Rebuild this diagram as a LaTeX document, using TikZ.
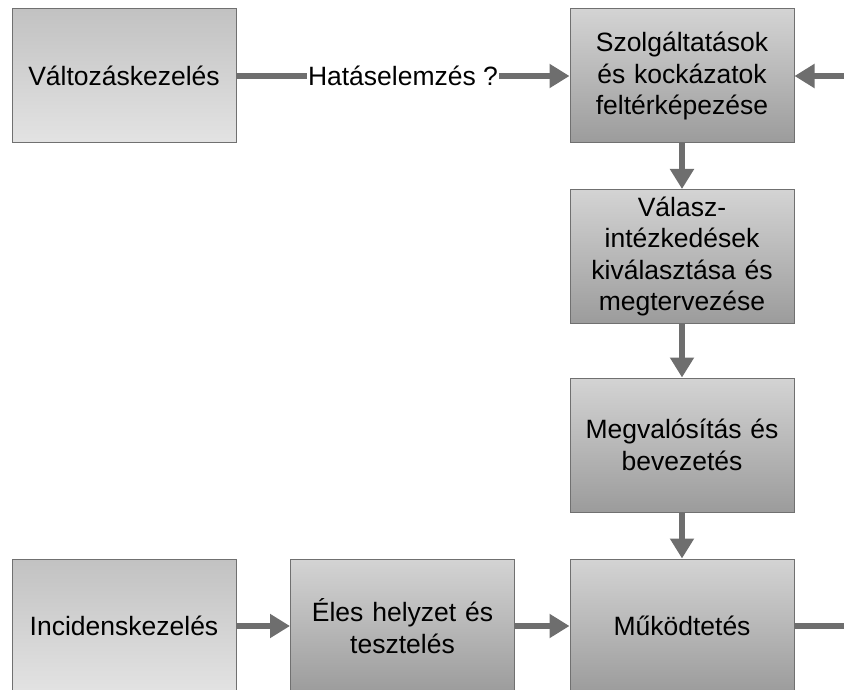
\documentclass[tikz,border=0pt]{standalone}
\usepackage{fontspec}
\setmainfont{Liberation Sans}
\usetikzlibrary{arrows.meta}
\definecolor{conn}{HTML}{6E6E6E}
\definecolor{bord}{HTML}{707070}
\tikzset{
  box/.style={draw=bord, line width=1pt, minimum width=224pt, minimum height=134pt,
    text width=214pt, align=center, inner sep=0pt,
    font=\fontsize{26.5}{31.5}\selectfont},
  lightbox/.style={box, top color=gray!48!white, bottom color=gray!22!white},
  darkbox/.style={box, top color=gray!34!white, bottom color=gray!78!white},
  conline/.style={draw=conn, line width=6pt},
  conarrow/.style={conline, -{Triangle[length=20pt,width=23pt]}, fill=conn}
}
\begin{document}
\begin{tikzpicture}[x=1pt,y=-1pt]
\useasboundingbox (0,0) rectangle (844,690);
\clip (0,0) rectangle (844,690);
\node[lightbox] (A) at (124,76) {Változáskezelés};
\node[darkbox] (B) at (682,76) {Szolgáltatások\\és kockázatok\\feltérképezése};
\node[darkbox] (C) at (682,256.5) {Válasz-\\intézkedések\\kiválasztása és\\megtervezése};
\node[darkbox] (D) at (682,445) {Megvalósítás és\\bevezetés};
\node[darkbox] (E) at (682,626) {Működtetés};
\node[lightbox] (F) at (124,626) {Incidenskezelés};
\node[darkbox] (G) at (402.5,626) {Éles helyzet és\\tesztelés};
\coordinate (Rin) at (850,76);
\coordinate (Rout) at (850,626);
\draw[conarrow] (A) -- node[fill=white, inner sep=1pt, font=\fontsize{26.5}{31.5}\selectfont] (lab) {Hatáselemzés ?} (B);
\draw[conarrow] (Rin) -- (B);
\draw[conarrow] (B) -- (C);
\draw[conarrow] (C) -- (D);
\draw[conarrow] (D) -- (E);
\draw[conarrow] (F) -- (G);
\draw[conarrow] (G) -- (E);
\draw[conline] (E) -- (Rout);
\end{tikzpicture}
\end{document}
